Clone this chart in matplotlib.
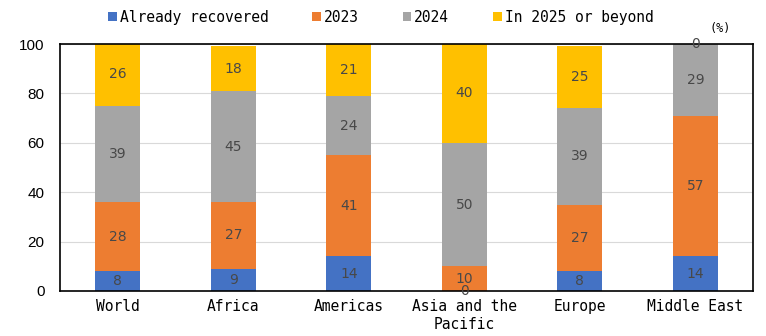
import matplotlib.pyplot as plt
import numpy as np

regions = ['World', 'Africa', 'Americas', 'Asia and the\nPacific', 'Europe', 'Middle East']
series = ['Already recovered', '2023', '2024', 'In 2025 or beyond']
recovered = [8, 9, 14, 0, 8, 14]
y2023 = [28, 27, 41, 10, 27, 57]
y2024 = [39, 45, 24, 50, 39, 29]
beyond = [26, 18, 21, 40, 25, 0]
colors = ['#4472C4', '#ED7D31', '#A5A5A5', '#FFC000']

mono = 'DejaVu Sans Mono'

fig = plt.figure(figsize=(7.66, 3.36), dpi=100)
ax = fig.add_axes([0.0783, 0.134, 0.905, 0.735])

x = np.arange(len(regions))
bottom = np.zeros(len(regions))
for name, vals, c in zip(series, [recovered, y2023, y2024, beyond], colors):
    vals = np.array(vals, dtype=float)
    ax.bar(x, vals, 0.39, bottom=bottom, color=c, label=name, zorder=2)
    for xi, b, v in zip(x, bottom, vals):
        ax.text(xi, b + v / 2, f'{int(v)}', ha='center', va='center',
                fontsize=10, color='#484848', zorder=4)
    bottom += vals

ax.set_xlim(-0.5, 5.5)
ax.set_ylim(0, 100)
ax.set_yticks(range(0, 101, 20))
ax.set_xticks(x)
ax.set_xticklabels(regions, family=mono, fontsize=10.5)
for lbl in ax.get_yticklabels():
    lbl.set_fontsize(11)
    lbl.set_family('Liberation Sans')
ax.tick_params(length=0, pad=6)
ax.tick_params(axis='y', pad=11)
ax.grid(axis='y', color='#D9D9D9', lw=0.8, zorder=0)
for s in ax.spines.values():
    s.set_color('black')
    s.set_linewidth(1.2)
    s.set_zorder(3)

fig.text(0.94, 0.915, '(%)', family=mono, fontsize=8.5, ha='center', va='center')

fig.legend(loc='center', bbox_to_anchor=(0.497, 0.948), ncol=4, frameon=False,
           prop={'family': mono, 'size': 10.5}, handlelength=0.6, handleheight=0.6,
           handletextpad=0.2, columnspacing=3.0, borderaxespad=0)

fig.savefig('out.png', dpi=100)
